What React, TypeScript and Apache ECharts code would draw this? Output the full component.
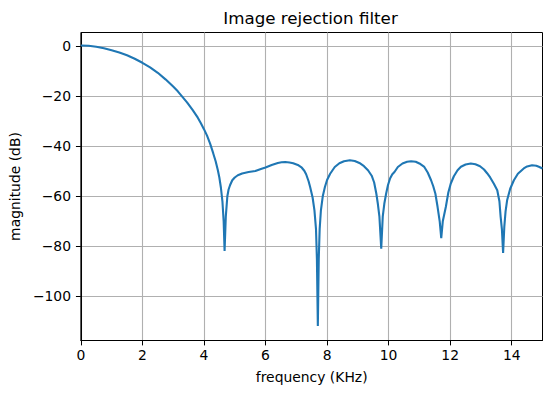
import React, { useEffect, useRef } from "react";
import * as echarts from "echarts";

const freq = [
  0, 0.25, 0.5, 0.75, 1.0, 1.25, 1.5, 1.75, 2.0, 2.25, 2.5, 2.75, 3.0, 3.15, 3.3, 3.45, 3.63, 3.8, 3.9, 4.0,
  4.1, 4.2, 4.3, 4.38, 4.45, 4.5, 4.55, 4.6, 4.64, 4.67,
  4.71, 4.76, 4.8, 4.85, 4.92, 5.0, 5.1, 5.24, 5.45, 5.67, 5.85, 6.0, 6.2, 6.4, 6.52, 6.64, 6.78, 6.9, 7.05,
  7.18, 7.26, 7.32, 7.4, 7.45, 7.53, 7.59, 7.64, 7.67, 7.7,
  7.73, 7.76, 7.8, 7.86, 7.93, 8.0, 8.1, 8.25, 8.4, 8.55, 8.74, 8.9, 9.05, 9.2, 9.33, 9.45, 9.53, 9.6, 9.65,
  9.7, 9.76,
  9.81, 9.86, 9.92, 9.98, 10.05, 10.12, 10.19, 10.3, 10.45, 10.6, 10.73, 10.88, 11.0, 11.16, 11.27, 11.38,
  11.45, 11.52, 11.59, 11.66, 11.71,
  11.76, 11.86, 11.94, 12.02, 12.12, 12.24, 12.35, 12.5, 12.67, 12.82, 12.97, 13.1, 13.2, 13.3, 13.42, 13.53,
  13.6, 13.64, 13.68, 13.72,
  13.76, 13.8, 13.85, 13.95, 14.07, 14.2, 14.39, 14.5, 14.66, 14.8, 14.9, 15.0,
];
const magnitude = [
  0.2, 0.1, -0.3, -0.9, -1.7, -2.6, -3.7, -5.1, -6.7, -8.5, -10.7, -13.3, -16.2, -18.1, -20.3, -22.5, -25.5, -28.6, -30.8, -33.2,
  -35.8, -39, -42.8, -46, -49.5, -52.5, -56.5, -62, -70, -81.8,
  -68, -60, -57.3, -55.5, -53.6, -52.5, -51.6, -50.9, -50.3, -49.9, -49.1, -48.5, -47.5, -46.7, -46.4, -46.3, -46.5, -46.8, -47.5,
  -48.6, -49.8, -51.2, -54, -56.3, -60.5, -65.6, -73, -85, -111.8,
  -85, -73, -65.6, -60, -56.3, -53.5, -51, -48.3, -46.8, -46, -45.6, -45.9, -46.7, -48, -49.6, -51.8, -54.5, -58.9, -63,
  -68, -80.9,
  -68, -63, -58.9, -55.5, -52.8, -51.2, -50.3, -48.3, -46.9, -46.2, -46.0, -46.2, -46.9, -48.3, -50.5, -53.6,
  -56, -59, -64.2, -70, -76.7,
  -70, -64.2, -58.5, -54.9, -52, -49.6, -48.2, -47.3, -46.9, -47.2, -48, -49.3, -50.8, -52.5, -55, -57.6,
  -62, -68.2, -73, -82.6,
  -72, -66, -61.6, -57, -53.6, -51, -48.9, -48.1, -47.6, -47.8, -48.3, -48.9,
];
const xTicks = [0, 2, 4, 6, 8, 10, 12, 14];
const yTicks = [-100, -80, -60, -40, -20, 0];

const FONT = "DejaVu Sans";

export default function App() {
  const ref = useRef<HTMLDivElement>(null);
  useEffect(() => {
    if (!ref.current) return;
    const chart = echarts.init(ref.current, undefined, { renderer: "svg" });
    const fmt = (v: number) => (v < 0 ? "\u2212" + Math.abs(v) : String(v));
    chart.setOption({
      animation: false,
      backgroundColor: "#ffffff",
      grid: {
        left: 77.5,
        right: 9.5,
        top: 32.5,
        bottom: 52.5,
        show: true,
        borderColor: "#000000",
        borderWidth: 1,
        backgroundColor: "transparent",
      },
      graphic: [
        {
          type: "text",
          x: 310.5,
          y: 18,
          style: {
            text: "Image rejection filter",
            font: `16.7px "${FONT}"`,
            fill: "#000000",
            textAlign: "center",
            textVerticalAlign: "middle",
          },
        },
      ],
      xAxis: {
        type: "value",
        min: 0,
        max: 15,
        name: "frequency (KHz)",
        nameLocation: "middle",
        nameGap: 29,
        nameTextStyle: { color: "#000", fontFamily: FONT, fontSize: 13.9 },
        axisLine: { show: true, onZero: false, lineStyle: { color: "#000", width: 1 } },
        axisTick: { show: true, length: 4.9, lineStyle: { color: "#000", width: 1 }, customValues: xTicks },
        axisLabel: { color: "#000", fontFamily: FONT, fontSize: 13.9, margin: 7, customValues: xTicks },
        splitLine: { show: true, lineStyle: { color: "#b0b0b0", width: 1.1 } },
      },
      yAxis: {
        type: "value",
        min: -117.6,
        max: 5.4,
        name: "magnitude (dB)",
        nameLocation: "middle",
        nameGap: 53,
        nameTextStyle: { color: "#000", fontFamily: FONT, fontSize: 13.9 },
        axisLine: { show: true, onZero: false, lineStyle: { color: "#000", width: 1 } },
        axisTick: { show: true, length: 4.9, lineStyle: { color: "#000", width: 1 }, customValues: yTicks },
        axisLabel: {
          color: "#000",
          fontFamily: FONT,
          fontSize: 13.9,
          margin: 9.8,
          customValues: yTicks,
          formatter: fmt,
        },
        splitLine: { show: true, lineStyle: { color: "#b0b0b0", width: 1.1 } },
      },
      series: [
        {
          type: "line",
          data: freq.map((f, i) => [f, magnitude[i]]),
          showSymbol: false,
          symbol: "none",
          lineStyle: { color: "#1f77b4", width: 2.1 },
          clip: true,
        },
      ],
    });
    return () => chart.dispose();
  }, []);
  return (
    <div
      ref={ref}
      style={{ position: "absolute", left: 0, top: 0, width: 552, height: 393 }}
    />
  );
}
